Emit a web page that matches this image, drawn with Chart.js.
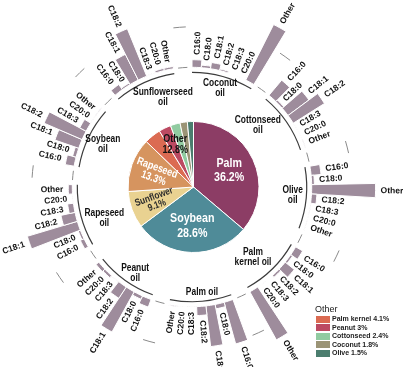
<!DOCTYPE html>
<html>
<head>
<meta charset="utf-8">
<script src="https://cdn.jsdelivr.net/npm/chart.js@4.4.1/dist/chart.umd.min.js"></script>
<style>
  html, body { margin: 0; padding: 0; background: #fff; }
  #wrap { position: relative; width: 403px; height: 367px; overflow: hidden; }
  #wrap canvas { position: absolute; left: 0; top: 0; }
  #legend { position: absolute; left: 315px; top: 304px; font-family: 'Liberation Sans', Arial, sans-serif; color: #222; }
  #legend .lg-title { font-size: 9px; line-height: 11px; height: 11px; }
  #legend .lg-item { font-size: 7px; font-weight: bold; line-height: 8.5px; height: 8.5px; display: flex; align-items: center; white-space: nowrap; }
  #legend .sw { display: inline-block; width: 14px; height: 7px; margin: 0 2px 0 1px; }
</style>
</head>
<body>
<div id="wrap">
  <canvas id="ringChart" width="403" height="367"></canvas>
  <canvas id="pieChart" width="403" height="367"></canvas>
  <div id="legend"></div>
</div>
<script>
// Oils around the ring, clockwise from the top
const OILS = ['Coconut oil', 'Cottonseed oil', 'Olive oil', 'Palm kernel oil', 'Palm oil',
  'Peanut oil', 'Rapeseed oil', 'Soybean oil', 'Sunflowerseed oil'];
const OIL_TITLES = [['Coconut', 'oil'], ['Cottonseed', 'oil'], ['Olive', 'oil'], ['Palm', 'kernel oil'],
  ['Palm oil'], ['Peanut', 'oil'], ['Rapeseed', 'oil'], ['Soybean', 'oil'], ['Sunflowerseed', 'oil']];
const ACIDS = ['C16:0', 'C18:0', 'C18:1', 'C18:2', 'C18:3', 'C20:0', 'Other'];
const OLIVE_ACIDS = ['C16:0', 'C18:0', 'Other', 'C18:2', 'C18:3', 'C20:0', 'Other'];

// Fatty acid composition (%), same order as ACIDS
const coconut = [8.4, 2.8, 7, 1.8, 0, 0.1, 69];
const cottonseed = [22, 2.4, 29, 41, 0.3, 0.3, 0.8];
const olive = [11, 3, 71, 6, 0.7, 0.4, 0.6];
const palmKernel = [9, 2.5, 13, 2.5, 0, 0.1, 61];
const palm = [48, 5, 45.5, 10, 0.3, 0.4, 1];
const peanut = [9, 4, 51, 15, 0.5, 3, 4];
const rapeseed = [4.5, 2.5, 58, 16, 6.5, 0.6, 4.5];
const soybean = [10, 4, 28, 46, 8, 0.4, 0.8];
const sunflowerseed = [7, 2, 32, 57, 0.5, 2.5, 2.5];
const COMPOSITION = [coconut, cottonseed, olive, palmKernel, palm, peanut, rapeseed, soybean, sunflowerseed];

// World production share (%)
const PIE_LABELS = ['Palm', 'Soybean', 'Sunflower', 'Rapeseed', 'Palm kernel', 'Peanut', 'Cottonseed', 'Coconut', 'Olive'];
const PIE_SHARES = [36.2, 28.6, 9.1, 13.3, 4.1, 3, 2.4, 1.8, 1.5];
const PIE_COLORS = ['#8c3d65', '#4f8b98', '#e9d291', '#d6945f', '#db6b52', '#bc4a62', '#91cba1', '#9b9476', '#4b7d6e'];
const MAIN_COUNT = 4; // slices after this are grouped as "Other"

const GROUP_GAP = 2;       // empty slots between oils
const GRID_VALUE = 45;     // light dashed guide in the gaps
const BAR_COLOR = '#9e8c9c';
const FONT = "'Liberation Sans', Arial, Helvetica, sans-serif";

// label placement for oil names: [angle from top (deg), distance from centre]
const OIL_TITLE_POS = [[15.8, 103], [47, 90], [94.5, 101], [139, 93], [174.6, 106],
  [213.5, 103], [250.6, 93], [295.8, 99], [342, 94]];

// build the ring slots
const slotValues = [];
const slotNames = [];
const slotTexts = [];
COMPOSITION.forEach((vals, g) => {
  const names = OILS[g] === 'Olive oil' ? OLIVE_ACIDS : ACIDS;
  vals.forEach((v, k) => {
    slotValues.push(v);
    slotNames.push(OILS[g] + ' ' + ACIDS[k]);
    slotTexts.push(names[k]);
  });
  for (let j = 0; j < GROUP_GAP; j++) {
    slotValues.push(0);
    slotNames.push('');
    slotTexts.push('');
  }
});
const SLOTS_PER_OIL = ACIDS.length + GROUP_GAP;

const rad = (d) => (d * Math.PI) / 180;

function narrowText(ctx, text, x, y, rot, sx) {
  ctx.save();
  ctx.translate(x, y);
  ctx.rotate(rot);
  ctx.scale(sx, 1);
  ctx.fillText(text, 0, 0);
  ctx.restore();
}

// Ring decorations: bar base, brackets, gap guides, labels
const ringDecor = {
  id: 'ringDecor',
  afterDatasetsUpdate(chart) {
    const r0 = chart.scales.r.getDistanceFromCenterForValue(0);
    chart.getDatasetMeta(0).data.forEach((arc) => {
      arc.innerRadius = r0;
    });
  },
  afterDatasetsDraw(chart) {
    const ctx = chart.ctx;
    const scale = chart.scales.r;
    const cx = scale.xCenter;
    const cy = scale.yCenter;
    const r0 = scale.getDistanceFromCenterForValue(0);
    const step = 360 / slotValues.length;

    ctx.save();
    // bracket under each oil
    ctx.strokeStyle = '#3c3c3c';
    ctx.lineWidth = 1.2;
    OILS.forEach((o, g) => {
      const a0 = g * SLOTS_PER_OIL * step;
      const a1 = a0 + ACIDS.length * step;
      ctx.beginPath();
      ctx.arc(cx, cy, r0 - 5, rad(a0 - 90), rad(a1 - 90));
      ctx.stroke();
    });

    // short guides in the gaps
    ctx.strokeStyle = '#8a8a8a';
    ctx.lineWidth = 1;
    const rGrid = scale.getDistanceFromCenterForValue(GRID_VALUE);
    OILS.forEach((o, g) => {
      const a0 = (g * SLOTS_PER_OIL + ACIDS.length + 0.5) * step;
      const a1 = a0 + (GROUP_GAP - 1) * step;
      [r0, rGrid].forEach((r) => {
        ctx.beginPath();
        ctx.arc(cx, cy, r, rad(a0 - 90), rad(a1 - 90));
        ctx.stroke();
      });
    });

    // fatty acid labels
    ctx.font = `bold 8.5px ${FONT}`;
    ctx.fillStyle = '#111';
    ctx.textBaseline = 'middle';
    slotValues.forEach((v, i) => {
      if (!slotTexts[i]) return;
      const a = (i + 0.5) * step;
      const rs = scale.getDistanceFromCenterForValue(v) + 5;
      ctx.save();
      ctx.translate(cx, cy);
      if (a < 180) {
        ctx.rotate(rad(a - 90));
        ctx.textAlign = 'left';
        ctx.fillText(slotTexts[i], rs, 0);
      } else {
        ctx.rotate(rad(a + 90));
        ctx.textAlign = 'right';
        ctx.fillText(slotTexts[i], -rs, 0);
      }
      ctx.restore();
    });

    // oil names
    ctx.font = `bold 10px ${FONT}`;
    ctx.textAlign = 'center';
    OIL_TITLES.forEach((lines, g) => {
      const [ang, dist] = OIL_TITLE_POS[g];
      const x = cx + dist * Math.sin(rad(ang));
      const y = cy - dist * Math.cos(rad(ang));
      lines.forEach((line, j) => {
        narrowText(ctx, line, x, y + (j - (lines.length - 1) / 2) * 10, 0, 0.84);
      });
    });
    ctx.restore();
  },
};

// Pie labels
const pieLabels = {
  id: 'pieLabels',
  afterDatasetsDraw(chart) {
    const ctx = chart.ctx;
    const arcs = chart.getDatasetMeta(0).data;
    const cx = arcs[0].x;
    const cy = arcs[0].y;
    const R = arcs[0].outerRadius;
    const styles = [
      { color: '#fff', size: 13, gap: 14, rotate: false, dist: 0.6 },
      { color: '#fff', size: 13, gap: 15, rotate: false, dist: 0.6 },
      { color: '#2b2b2b', size: 10, gap: 9, rotate: true, dist: 0.62 },
      { color: '#fff', size: 11, gap: 11, rotate: true, dist: 0.62 },
    ];
    ctx.save();
    ctx.textAlign = 'center';
    ctx.textBaseline = 'middle';
    const put = (lines, mid, st) => {
      const x = cx + st.dist * R * Math.cos(mid);
      const y = cy + st.dist * R * Math.sin(mid);
      const rot = st.rotate ? mid + Math.PI : 0;
      ctx.font = `bold ${st.size}px ${FONT}`;
      ctx.fillStyle = st.color;
      lines.forEach((line, j) => {
        const off = (j - 0.5) * st.gap;
        narrowText(ctx, line, x - off * Math.sin(rot), y + off * Math.cos(rot), rot, 0.82);
      });
    };
    for (let i = 0; i < MAIN_COUNT; i++) {
      const mid = (arcs[i].startAngle + arcs[i].endAngle) / 2;
      put([PIE_LABELS[i], PIE_SHARES[i] + '%'], mid, styles[i]);
    }
    const otherShare = PIE_SHARES.slice(MAIN_COUNT).reduce((s, v) => s + v, 0);
    const midOther = (arcs[MAIN_COUNT].startAngle + arcs[arcs.length - 1].endAngle) / 2;
    put(['Other', otherShare.toFixed(1) + '%'], midOther,
      { color: '#111', size: 11, gap: 11, rotate: false, dist: 0.71 });
    ctx.restore();
  },
};

// Circular bar chart of fatty acids
new Chart(document.getElementById('ringChart'), {
  type: 'polarArea',
  data: {
    labels: slotNames,
    datasets: [
      {
        data: slotValues,
        backgroundColor: BAR_COLOR,
        borderColor: '#fff',
        borderWidth: 1,
        clip: false,
      },
    ],
  },
  options: {
    responsive: false,
    animation: false,
    events: [],
    layout: { padding: { left: 12, right: 31, top: 7, bottom: 0 } },
    plugins: { legend: { display: false }, tooltip: { enabled: false } },
    scales: {
      r: {
        min: -133,
        max: 67,
        startAngle: 0,
        grid: { display: false },
        angleLines: { display: false },
        ticks: { display: false },
        pointLabels: { display: false },
      },
    },
  },
  plugins: [ringDecor],
});

// Production share pie
new Chart(document.getElementById('pieChart'), {
  type: 'pie',
  data: {
    labels: PIE_LABELS,
    datasets: [
      {
        data: PIE_SHARES,
        backgroundColor: PIE_COLORS,
        borderColor: '#fff',
        borderWidth: 1,
      },
    ],
  },
  options: {
    responsive: false,
    animation: false,
    events: [],
    layout: { padding: { left: 127.5, right: 143.5, top: 121, bottom: 114 } },
    plugins: { legend: { display: false }, tooltip: { enabled: false } },
  },
  plugins: [pieLabels],
});

// "Other" legend
const legendEl = document.getElementById('legend');
legendEl.innerHTML =
  '<div class="lg-title">Other</div>' +
  PIE_LABELS.slice(MAIN_COUNT)
    .map((name, j) => {
      const idx = j + MAIN_COUNT;
      return `<div class="lg-item"><span class="sw" style="background:${PIE_COLORS[idx]}"></span>${name} ${PIE_SHARES[idx]}%</div>`;
    })
    .join('');
</script>
</body>
</html>
